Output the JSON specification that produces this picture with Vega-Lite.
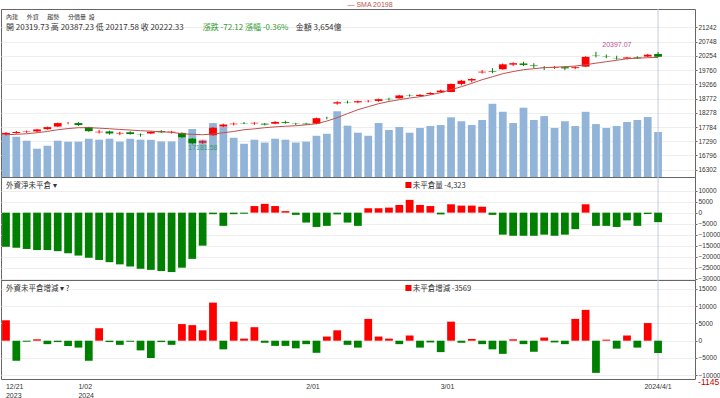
{
 "$schema": "https://vega.github.io/schema/vega-lite/v6.json",
 "padding": 0,
 "spacing": 0,
 "bounds": "flush",
 "config": {
  "view": {"stroke": "#666666", "strokeWidth": 1},
  "axis": {"labelFont": "Liberation Sans", "labelFontSize": 6.5, "labelColor": "#333333", "domain": false, "ticks": true, "tickSize": 2, "tickColor": "#666666", "gridColor": "#eeeeee", "title": null, "labelPadding": 1, "labelOverlap": false, "labelBound": false, "labelFlush": false},
  "text": {"font": "Noto Sans CJK TC"}
 },
 "datasets": {
  "k": [
   {"d":"2023-12-21","o":17520,"h":17610,"l":17490,"c":17580,"v":3430,"sma":17517,"oi":-15500,"doi":5900},
   {"d":"2023-12-22","o":17580,"h":17650,"l":17550,"c":17610,"v":3270,"sma":17530,"oi":-16000,"doi":-5800},
   {"d":"2023-12-25","o":17610,"h":17660,"l":17580,"c":17625,"v":2950,"sma":17550,"oi":-16500,"doi":-300},
   {"d":"2023-12-26","o":17630,"h":17720,"l":17610,"c":17700,"v":2300,"sma":17586,"oi":-17000,"doi":400},
   {"d":"2023-12-27","o":17710,"h":17800,"l":17690,"c":17780,"v":2540,"sma":17630,"oi":-17000,"doi":-1000},
   {"d":"2023-12-28","o":17800,"h":17940,"l":17790,"c":17920,"v":2950,"sma":17690,"oi":-17500,"doi":-400},
   {"d":"2023-12-29","o":17930,"h":17960,"l":17880,"c":17931,"v":2870,"sma":17730,"oi":-18500,"doi":-1500},
   {"d":"2024-01-02","o":17920,"h":17960,"l":17820,"c":17854,"v":2870,"sma":17760,"oi":-19500,"doi":-2000},
   {"d":"2024-01-03","o":17780,"h":17790,"l":17620,"c":17640,"v":3110,"sma":17760,"oi":-20500,"doi":-5800},
   {"d":"2024-01-04","o":17600,"h":17680,"l":17560,"c":17620,"v":3030,"sma":17745,"oi":-21500,"doi":3600},
   {"d":"2024-01-05","o":17630,"h":17660,"l":17520,"c":17560,"v":3110,"sma":17725,"oi":-22500,"doi":-400},
   {"d":"2024-01-08","o":17560,"h":17620,"l":17500,"c":17580,"v":2870,"sma":17700,"oi":-23500,"doi":-1200},
   {"d":"2024-01-09","o":17600,"h":17640,"l":17520,"c":17540,"v":3110,"sma":17680,"oi":-24500,"doi":-300},
   {"d":"2024-01-10","o":17520,"h":17560,"l":17450,"c":17510,"v":3030,"sma":17656,"oi":-25500,"doi":-2800},
   {"d":"2024-01-11","o":17560,"h":17640,"l":17540,"c":17620,"v":3020,"sma":17640,"oi":-26000,"doi":-5000},
   {"d":"2024-01-12","o":17640,"h":17680,"l":17580,"c":17600,"v":2890,"sma":17621,"oi":-26500,"doi":-400},
   {"d":"2024-01-15","o":17600,"h":17650,"l":17560,"c":17620,"v":2890,"sma":17600,"oi":-27000,"doi":-1200},
   {"d":"2024-01-16","o":17580,"h":17600,"l":17400,"c":17420,"v":3190,"sma":17551,"oi":-25000,"doi":4800},
   {"d":"2024-01-17","o":17380,"h":17400,"l":17181.58,"c":17220,"v":3900,"sma":17530,"oi":-21000,"doi":4500},
   {"d":"2024-01-18","o":17240,"h":17320,"l":17200,"c":17290,"v":3030,"sma":17517,"oi":-15000,"doi":3000},
   {"d":"2024-01-19","o":17500,"h":17780,"l":17480,"c":17760,"v":4385,"sma":17540,"oi":-700,"doi":11000},
   {"d":"2024-01-22","o":17800,"h":17900,"l":17780,"c":17870,"v":4060,"sma":17586,"oi":-6000,"doi":-2500},
   {"d":"2024-01-23","o":17880,"h":17940,"l":17840,"c":17900,"v":3190,"sma":17630,"oi":-700,"doi":5500},
   {"d":"2024-01-24","o":17920,"h":17960,"l":17880,"c":17910,"v":2700,"sma":17690,"oi":-500,"doi":600},
   {"d":"2024-01-25","o":17910,"h":17950,"l":17860,"c":17930,"v":3030,"sma":17720,"oi":3000,"doi":3900},
   {"d":"2024-01-26","o":17900,"h":17920,"l":17840,"c":17870,"v":2800,"sma":17760,"oi":4000,"doi":-600},
   {"d":"2024-01-29","o":17900,"h":17990,"l":17880,"c":17960,"v":3110,"sma":17790,"oi":3000,"doi":-1500},
   {"d":"2024-01-30","o":17960,"h":18000,"l":17900,"c":17930,"v":3030,"sma":17810,"oi":700,"doi":-1500},
   {"d":"2024-01-31","o":17900,"h":17930,"l":17850,"c":17890,"v":2800,"sma":17829,"oi":-1000,"doi":-2200},
   {"d":"2024-02-01","o":17900,"h":17930,"l":17860,"c":17880,"v":2870,"sma":17860,"oi":-4500,"doi":-1000},
   {"d":"2024-02-02","o":17900,"h":18110,"l":17880,"c":18090,"v":3350,"sma":17898,"oi":-6500,"doi":-3500},
   {"d":"2024-02-05","o":18100,"h":18140,"l":18050,"c":18096,"v":3510,"sma":17990,"oi":-6000,"doi":1200},
   {"d":"2024-02-15","o":18600,"h":18680,"l":18560,"c":18644,"v":5340,"sma":18107,"oi":-800,"doi":3000},
   {"d":"2024-02-16","o":18650,"h":18700,"l":18600,"c":18640,"v":4170,"sma":18250,"oi":-4500,"doi":-1200},
   {"d":"2024-02-19","o":18640,"h":18700,"l":18610,"c":18680,"v":3600,"sma":18385,"oi":-6000,"doi":-2000},
   {"d":"2024-02-20","o":18680,"h":18720,"l":18640,"c":18690,"v":3350,"sma":18490,"oi":2000,"doi":6300},
   {"d":"2024-02-21","o":18690,"h":18770,"l":18660,"c":18750,"v":4385,"sma":18593,"oi":2000,"doi":1200},
   {"d":"2024-02-22","o":18760,"h":18800,"l":18700,"c":18750,"v":3820,"sma":18670,"oi":2300,"doi":600},
   {"d":"2024-02-23","o":18780,"h":18900,"l":18770,"c":18880,"v":4060,"sma":18732,"oi":3500,"doi":-1000},
   {"d":"2024-02-26","o":18880,"h":18920,"l":18840,"c":18870,"v":3600,"sma":18790,"oi":5800,"doi":1500},
   {"d":"2024-02-27","o":18860,"h":18930,"l":18840,"c":18900,"v":3980,"sma":18836,"oi":3500,"doi":-2000},
   {"d":"2024-02-29","o":18930,"h":18990,"l":18900,"c":18966,"v":4140,"sma":18900,"oi":3000,"doi":-500},
   {"d":"2024-03-01","o":18990,"h":19080,"l":18970,"c":19049,"v":4220,"sma":18975,"oi":-800,"doi":-3300},
   {"d":"2024-03-04","o":19000,"h":19290,"l":18990,"c":19279,"v":4850,"sma":19080,"oi":3800,"doi":5500},
   {"d":"2024-03-05","o":19280,"h":19420,"l":19230,"c":19390,"v":4530,"sma":19183,"oi":3200,"doi":-600},
   {"d":"2024-03-06","o":19400,"h":19480,"l":19330,"c":19450,"v":4220,"sma":19300,"oi":3200,"doi":500},
   {"d":"2024-03-07","o":19680,"h":19760,"l":19640,"c":19704,"v":4630,"sma":19426,"oi":2700,"doi":-1000},
   {"d":"2024-03-08","o":19720,"h":19830,"l":19650,"c":19700,"v":5950,"sma":19530,"oi":-1000,"doi":-2500},
   {"d":"2024-03-11","o":19790,"h":19990,"l":19770,"c":19960,"v":5300,"sma":19634,"oi":-10000,"doi":-3800},
   {"d":"2024-03-12","o":19950,"h":20030,"l":19900,"c":20000,"v":4385,"sma":19710,"oi":-10500,"doi":400},
   {"d":"2024-03-13","o":19990,"h":20050,"l":19900,"c":19940,"v":5630,"sma":19773,"oi":-10500,"doi":-1000},
   {"d":"2024-03-14","o":19920,"h":20000,"l":19830,"c":19900,"v":4630,"sma":19810,"oi":-10500,"doi":-3200},
   {"d":"2024-03-15","o":19860,"h":19900,"l":19760,"c":19850,"v":4950,"sma":19843,"oi":-10000,"doi":900},
   {"d":"2024-03-18","o":19840,"h":19900,"l":19800,"c":19860,"v":3980,"sma":19860,"oi":-10500,"doi":-500},
   {"d":"2024-03-19","o":19860,"h":19900,"l":19760,"c":19820,"v":4530,"sma":19878,"oi":-10000,"doi":-1000},
   {"d":"2024-03-20","o":19830,"h":19890,"l":19790,"c":19860,"v":4140,"sma":19900,"oi":-7500,"doi":6300},
   {"d":"2024-03-21","o":19880,"h":20240,"l":19870,"c":20220,"v":5300,"sma":19947,"oi":3800,"doi":8900},
   {"d":"2024-03-22","o":20280,"h":20397.07,"l":20200,"c":20270,"v":4300,"sma":20000,"oi":-6000,"doi":-9300},
   {"d":"2024-03-25","o":20240,"h":20300,"l":20170,"c":20230,"v":3980,"sma":20051,"oi":-6000,"doi":300},
   {"d":"2024-03-26","o":20180,"h":20260,"l":20120,"c":20170,"v":4140,"sma":20100,"oi":-6500,"doi":-2300},
   {"d":"2024-03-27","o":20160,"h":20220,"l":20130,"c":20200,"v":4470,"sma":20155,"oi":-3500,"doi":1500},
   {"d":"2024-03-28","o":20200,"h":20240,"l":20150,"c":20170,"v":4630,"sma":20175,"oi":-6000,"doi":-2000},
   {"d":"2024-03-29","o":20230,"h":20320,"l":20210,"c":20294.45,"v":4870,"sma":20190,"oi":-600,"doi":5100},
   {"d":"2024-04-01","o":20319.73,"h":20387.23,"l":20217.58,"c":20222.33,"v":3654,"sma":20198,"oi":-4323,"doi":-3569}
  ],
  "buttons": [
   {"d":"2023-12-21","y":21600,"t":"內建"},
   {"d":"2023-12-25","y":21600,"t":"外資"},
   {"d":"2023-12-27","y":21600,"t":"趨勢"},
   {"d":"2023-12-29","y":21600,"t":"分價量"},
   {"d":"2024-01-03","y":21600,"t":"設"}
  ],
  "head": [
   {"d":"2023-12-21","y":21232,"t":"開 20319.73  高 20387.23  低 20217.58  收 20222.33","c":"#333333"},
   {"d":"2024-01-18","y":21232,"t":"漲跌 -72.12  漲幅  -0.36%","c":"#2e9a2e"},
   {"d":"2024-01-31","y":21232,"t":"金額 3,654億","c":"#333333"}
  ],
  "marks": [
   {"d":"2024-01-17","y":17065,"t":"17181.58","c":"#3a9a6a"},
   {"d":"2024-03-25","y":20617,"t":"20397.07","c":"#c04f8f"}
  ]
 },
 "vconcat": [
  {
   "width": 694, "height": 168,
   "title": {"text": "—    SMA 20198", "fontSize": 7, "color": "#c0504d", "offset": 1, "dx": 22, "font": "Liberation Sans", "fontWeight": "normal"},
   "encoding": {
    "x": {"field": "d", "type": "ordinal", "scale": {"domain": ["2023-12-21","2023-12-22","2023-12-25","2023-12-26","2023-12-27","2023-12-28","2023-12-29","2024-01-02","2024-01-03","2024-01-04","2024-01-05","2024-01-08","2024-01-09","2024-01-10","2024-01-11","2024-01-12","2024-01-15","2024-01-16","2024-01-17","2024-01-18","2024-01-19","2024-01-22","2024-01-23","2024-01-24","2024-01-25","2024-01-26","2024-01-29","2024-01-30","2024-01-31","2024-02-01","2024-02-02","2024-02-05","2024-02-15","2024-02-16","2024-02-19","2024-02-20","2024-02-21","2024-02-22","2024-02-23","2024-02-26","2024-02-27","2024-02-29","2024-03-01","2024-03-04","2024-03-05","2024-03-06","2024-03-07","2024-03-08","2024-03-11","2024-03-12","2024-03-13","2024-03-14","2024-03-15","2024-03-18","2024-03-19","2024-03-20","2024-03-21","2024-03-22","2024-03-25","2024-03-26","2024-03-27","2024-03-28","2024-03-29","2024-04-01","2024-04-02","2024-04-03"], "paddingInner": 0.25, "paddingOuter": 0.65, "align": 0.081}, "axis": null}
   },
   "layer": [
    {
     "data": {"name": "k"},
     "mark": {"type": "bar", "color": "#92b4d8"},
     "encoding": {
      "y": {"field": "v", "type": "quantitative", "scale": {"domain": [0, 13650], "nice": false}, "axis": null}
     }
    },
    {
     "layer": [
      {
       "data": {"name": "k"},
       "mark": {"type": "rule", "color": "#c5cde0"},
       "transform": [{"filter": "datum.d == '2024-04-01'"}],
       "encoding": {}
      },
      {
       "data": {"name": "k"},
       "mark": {"type": "rule", "strokeWidth": 1},
       "encoding": {
        "y": {"field": "l", "type": "quantitative", "scale": {"domain": [16049, 21881], "nice": false, "zero": false}, "axis": {"orient": "right", "values": [16302,16796,17290,17784,18278,18772,19266,19760,20254,20748,21242], "tickCount": 40, "grid": true, "format": "d", "labelOverlap": false}},
        "y2": {"field": "h"},
        "color": {"condition": {"test": "datum.c >= datum.o", "value": "#ff0000"}, "value": "#008000"}
       }
      },
      {
       "data": {"name": "k"},
       "mark": {"type": "bar"},
       "encoding": {
        "y": {"field": "o", "type": "quantitative"},
        "y2": {"field": "c"},
        "color": {"condition": {"test": "datum.c >= datum.o", "value": "#ff0000"}, "value": "#008000"}
       }
      },
      {
       "data": {"name": "k"},
       "mark": {"type": "line", "color": "#c0504d", "strokeWidth": 1},
       "encoding": {"y": {"field": "sma", "type": "quantitative"}}
      },
      {
       "data": {"name": "buttons"},
       "mark": {"type": "text", "align": "left", "baseline": "middle", "fontSize": 6, "color": "#333333"},
       "encoding": {
        "y": {"field": "y", "type": "quantitative"},
        "text": {"field": "t"}
       }
      },
      {
       "data": {"name": "head"},
       "mark": {"type": "text", "align": "left", "baseline": "middle", "fontSize": 8},
       "encoding": {
        "y": {"field": "y", "type": "quantitative"},
        "text": {"field": "t"},
        "color": {"field": "c", "type": "nominal", "scale": null}
       }
      },
      {
       "data": {"name": "marks"},
       "mark": {"type": "text", "align": "left", "baseline": "middle", "fontSize": 7, "font": "Liberation Sans", "dx": -4},
       "encoding": {
        "y": {"field": "y", "type": "quantitative"},
        "text": {"field": "t"},
        "color": {"field": "c", "type": "nominal", "scale": null}
       }
      }
     ]
    }
   ],
   "resolve": {"scale": {"y": "independent"}}
  },
  {
   "width": 694, "height": 103,
   "encoding": {
    "x": {"field": "d", "type": "ordinal", "scale": {"domain": ["2023-12-21","2023-12-22","2023-12-25","2023-12-26","2023-12-27","2023-12-28","2023-12-29","2024-01-02","2024-01-03","2024-01-04","2024-01-05","2024-01-08","2024-01-09","2024-01-10","2024-01-11","2024-01-12","2024-01-15","2024-01-16","2024-01-17","2024-01-18","2024-01-19","2024-01-22","2024-01-23","2024-01-24","2024-01-25","2024-01-26","2024-01-29","2024-01-30","2024-01-31","2024-02-01","2024-02-02","2024-02-05","2024-02-15","2024-02-16","2024-02-19","2024-02-20","2024-02-21","2024-02-22","2024-02-23","2024-02-26","2024-02-27","2024-02-29","2024-03-01","2024-03-04","2024-03-05","2024-03-06","2024-03-07","2024-03-08","2024-03-11","2024-03-12","2024-03-13","2024-03-14","2024-03-15","2024-03-18","2024-03-19","2024-03-20","2024-03-21","2024-03-22","2024-03-25","2024-03-26","2024-03-27","2024-03-28","2024-03-29","2024-04-01","2024-04-02","2024-04-03"], "paddingInner": 0.25, "paddingOuter": 0.65, "align": 0.081}, "axis": null}
   },
   "layer": [
    {
     "data": {"name": "k"},
     "mark": {"type": "rule", "color": "#c5cde0"},
     "transform": [{"filter": "datum.d == '2024-04-01'"}],
     "encoding": {}
    },
    {
     "data": {"name": "k"},
     "mark": {"type": "bar"},
     "encoding": {
      "y": {"field": "oi", "type": "quantitative", "scale": {"domain": [-30600, 16200], "nice": false}, "axis": {"orient": "right", "values": [10000,5000,0,-5000,-10000,-15000,-20000,-25000,-30000], "tickCount": 40, "grid": true, "format": "d", "labelOverlap": false}},
      "color": {"condition": {"test": "datum.oi >= 0", "value": "#ff0000"}, "value": "#008000"}
     }
    },
    {
     "data": {"values": [{"d":"2023-12-21","y":12000,"t":"外資淨未平倉  ▾"}]},
     "mark": {"type": "text", "align": "left", "baseline": "middle", "fontSize": 7.5, "color": "#333333"},
     "encoding": {"y": {"field": "y", "type": "quantitative"}, "text": {"field": "t"}}
    },
    {
     "data": {"values": [{"d":"2024-02-26","y":12000,"t":"■"}]},
     "mark": {"type": "text", "align": "left", "baseline": "middle", "fontSize": 7.5, "color": "#ff0000", "dx": -5},
     "encoding": {"y": {"field": "y", "type": "quantitative"}, "text": {"field": "t"}}
    },
    {
     "data": {"values": [{"d":"2024-02-26","y":12000,"t":"未平倉量 -4,323"}]},
     "mark": {"type": "text", "align": "left", "baseline": "middle", "fontSize": 7.5, "color": "#333333", "dx": 3},
     "encoding": {"y": {"field": "y", "type": "quantitative"}, "text": {"field": "t"}}
    }
   ]
  },
  {
   "width": 694, "height": 99,
   "encoding": {
    "x": {"field": "d", "type": "ordinal", "scale": {"domain": ["2023-12-21","2023-12-22","2023-12-25","2023-12-26","2023-12-27","2023-12-28","2023-12-29","2024-01-02","2024-01-03","2024-01-04","2024-01-05","2024-01-08","2024-01-09","2024-01-10","2024-01-11","2024-01-12","2024-01-15","2024-01-16","2024-01-17","2024-01-18","2024-01-19","2024-01-22","2024-01-23","2024-01-24","2024-01-25","2024-01-26","2024-01-29","2024-01-30","2024-01-31","2024-02-01","2024-02-02","2024-02-05","2024-02-15","2024-02-16","2024-02-19","2024-02-20","2024-02-21","2024-02-22","2024-02-23","2024-02-26","2024-02-27","2024-02-29","2024-03-01","2024-03-04","2024-03-05","2024-03-06","2024-03-07","2024-03-08","2024-03-11","2024-03-12","2024-03-13","2024-03-14","2024-03-15","2024-03-18","2024-03-19","2024-03-20","2024-03-21","2024-03-22","2024-03-25","2024-03-26","2024-03-27","2024-03-28","2024-03-29","2024-04-01","2024-04-02","2024-04-03"], "paddingInner": 0.25, "paddingOuter": 0.65, "align": 0.081},
     "axis": {"orient": "bottom", "ticks": false, "labelAngle": 0, "labelPadding": 3, "labelLineHeight": 9, "labelFontSize": 7,
      "labelAlign": {"condition": {"test": "datum.value == '2024-04-01'", "value": "center"}, "value": "left"},
      "labelExpr": "datum.value == '2023-12-21' ? ['12/21','2023'] : datum.value == '2024-01-02' ? ['1/02','2024'] : datum.value == '2024-02-01' ? '2/01' : datum.value == '2024-03-01' ? '3/01' : datum.value == '2024-04-01' ? '2024/4/1' : ''"}}
   },
   "layer": [
    {
     "data": {"name": "k"},
     "mark": {"type": "rule", "color": "#c5cde0"},
     "transform": [{"filter": "datum.d == '2024-04-01'"}],
     "encoding": {}
    },
    {
     "data": {"name": "k"},
     "mark": {"type": "bar"},
     "encoding": {
      "y": {"field": "doi", "type": "quantitative", "scale": {"domain": [-11070, 17540], "nice": false}, "axis": {"orient": "right", "values": [15000,10000,5000,0,-5000,-10000], "tickCount": 40, "grid": true, "format": "d", "labelOverlap": false}},
      "color": {"condition": {"test": "datum.doi >= 0", "value": "#ff0000"}, "value": "#008000"}
     }
    },
    {
     "data": {"values": [{"d":"2023-12-21","y":15000,"t":"外資未平倉增減  ▾   ?"}]},
     "mark": {"type": "text", "align": "left", "baseline": "middle", "fontSize": 7.5, "color": "#333333"},
     "encoding": {"y": {"field": "y", "type": "quantitative"}, "text": {"field": "t"}}
    },
    {
     "data": {"values": [{"d":"2024-02-26","y":15000,"t":"■"}]},
     "mark": {"type": "text", "align": "left", "baseline": "middle", "fontSize": 7.5, "color": "#ff0000", "dx": -5},
     "encoding": {"y": {"field": "y", "type": "quantitative"}, "text": {"field": "t"}}
    },
    {
     "data": {"values": [{"d":"2024-02-26","y":15000,"t":"未平倉增減 -3569"}]},
     "mark": {"type": "text", "align": "left", "baseline": "middle", "fontSize": 7.5, "color": "#333333", "dx": 3},
     "encoding": {"y": {"field": "y", "type": "quantitative"}, "text": {"field": "t"}}
    },
    {
     "data": {"values": [{"d":"2024-04-01","y":-12000,"t":"-1145"}]},
     "mark": {"type": "text", "align": "left", "baseline": "middle", "fontSize": 8.5, "color": "#c00000", "dx": 40, "font": "Liberation Sans"},
     "encoding": {"y": {"field": "y", "type": "quantitative"}, "text": {"field": "t"}}
    }
   ]
  }
 ]
}
